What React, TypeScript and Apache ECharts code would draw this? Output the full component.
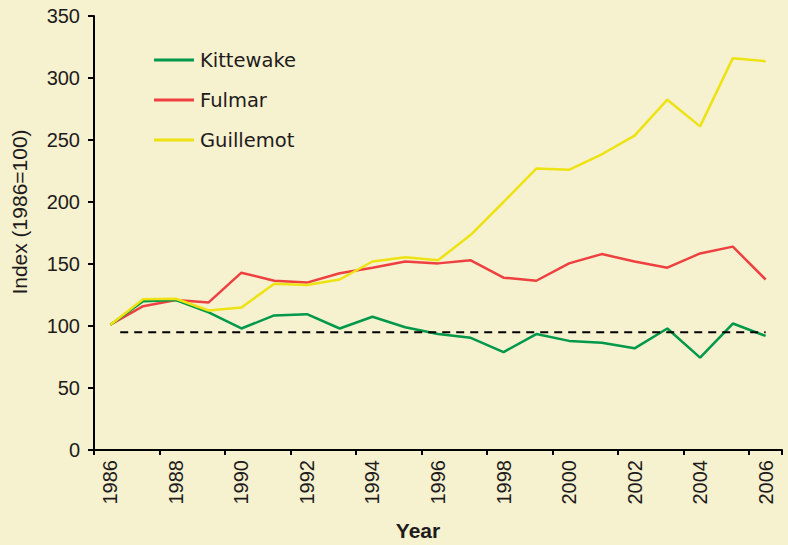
import React, { useEffect, useRef } from "react";
import * as echarts from "echarts";

const years = ["1986","1987","1988","1989","1990","1991","1992","1993","1994","1995","1996","1997","1998","1999","2000","2001","2002","2003","2004","2005","2006"];
const kittewake = [101, 120, 121, 111, 98, 108.5, 109.5, 98, 107.5, 99, 93.5, 90.5, 79, 93.5, 88, 86.5, 82, 98, 74.5, 102, 92];
const fulmar = [101, 116, 121, 119, 143, 136.5, 135, 142.5, 147, 152, 150.5, 153, 139, 136.5, 150.5, 158, 152, 147, 158.5, 164, 137.5];
const guillemot = [101, 121.5, 122, 112.5, 115, 134, 133, 137.5, 152, 155.5, 153, 173.5, 200, 227, 226, 238.5, 253.5, 282.5, 261, 316, 313.5];
const baselineValue = 95;
const baselineX = [0.3, 20];

const textColor = "#1E1B1C";
const font = "'Liberation Sans', Arial, sans-serif";

export default function App() {
  const ref = useRef<HTMLDivElement>(null);
  useEffect(() => {
    if (!ref.current) return;
    const chart = echarts.init(ref.current, undefined, { renderer: "svg" });
    chart.setOption({
      animation: false,
      backgroundColor: "#F6F1CE",
      textStyle: { fontFamily: font, color: textColor },
      grid: { left: 94, right: 6, top: 16, bottom: 95, outerBoundsMode: "none" },
      legend: {
        orient: "vertical",
        left: 149,
        top: 45,
        padding: 5,
        icon: "rect",
        itemWidth: 40,
        itemHeight: 3,
        itemGap: 20,
        textStyle: { fontFamily: "'DejaVu Sans', sans-serif", fontSize: 19.5, color: textColor, lineHeight: 20, padding: [0, 0, 0, 1] },
        data: ["Kittewake", "Fulmar", "Guillemot"],
      },
      xAxis: [
        {
          type: "category",
          data: years,
          boundaryGap: true,
          name: "Year",
          nameLocation: "middle",
          nameGap: 70,
          nameTextStyle: { fontFamily: font, fontWeight: "bold", fontSize: 21, color: textColor, padding: [0, 40, 0, 0] },
          axisLine: { onZero: false, lineStyle: { color: "#000", width: 2 } },
          axisTick: { show: true, length: 5, lineStyle: { color: "#000", width: 2 } },
          axisLabel: { rotate: 90, interval: 1, margin: 10, fontSize: 20, color: textColor, fontFamily: font },
          splitLine: { show: false },
        },
        {
          type: "value",
          min: -0.5,
          max: 20.5,
          show: false,
        },
      ],
      yAxis: {
        type: "value",
        min: 0,
        max: 350,
        interval: 50,
        name: "Index (1986=100)",
        nameLocation: "middle",
        nameGap: 64,
        nameRotate: 90,
        nameTextStyle: { fontFamily: font, fontSize: 21, color: textColor, padding: [0, 0, 0, 42] },
        axisLine: { show: true, onZero: false, lineStyle: { color: "#000", width: 2 } },
        axisTick: { show: true, length: 6, lineStyle: { color: "#000", width: 2 } },
        axisLabel: { margin: 14, fontSize: 20, color: textColor, fontFamily: font },
        splitLine: { show: false },
      },
      series: [
        {
          name: "Kittewake",
          type: "line",
          data: kittewake,
          symbol: "none",
          lineStyle: { color: "#00984A", width: 2.5 },
          itemStyle: { color: "#00984A" },
          z: 4,
        },
        {
          name: "Fulmar",
          type: "line",
          data: fulmar,
          symbol: "none",
          lineStyle: { color: "#EE4040", width: 2.5 },
          itemStyle: { color: "#EE4040" },
          z: 3,
        },
        {
          name: "Guillemot",
          type: "line",
          data: guillemot,
          symbol: "none",
          lineStyle: { color: "#EEE312", width: 2.5 },
          itemStyle: { color: "#EEE312" },
          z: 5,
        },
        {
          name: "Baseline",
          type: "line",
          xAxisIndex: 1,
          data: baselineX.map((x) => [x, baselineValue]),
          symbol: "none",
          lineStyle: { color: "#000", width: 2, type: [8, 6] },
          z: 6,
          silent: true,
        },
      ],
    });
    return () => chart.dispose();
  }, []);
  return <div ref={ref} style={{ width: 788, height: 545, position: "absolute", left: 0, top: 0 }} />;
}
